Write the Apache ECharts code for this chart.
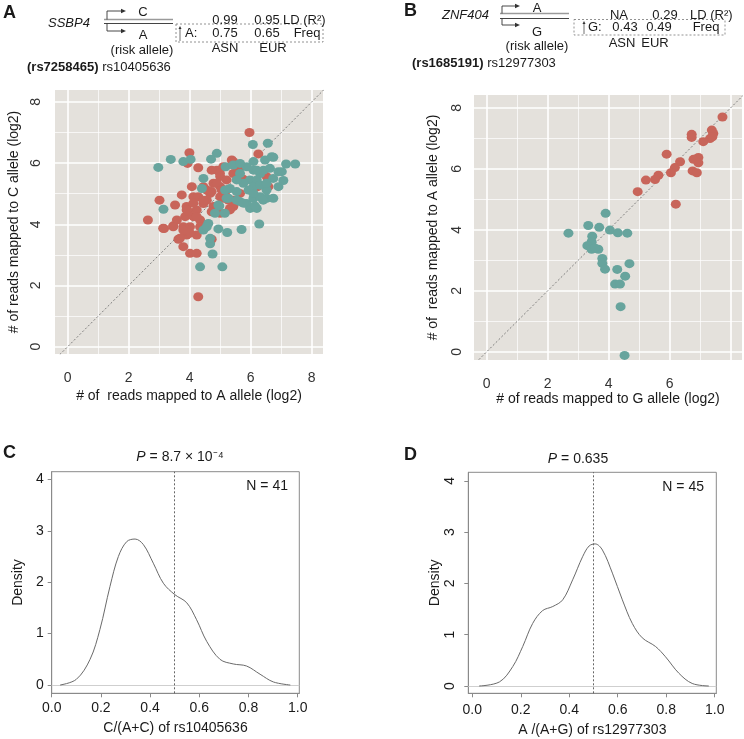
<!DOCTYPE html>
<html>
<head>
<meta charset="utf-8">
<script src="https://cdn.jsdelivr.net/npm/echarts@6/dist/echarts.min.js"></script>
<style>html,body{margin:0;padding:0;background:#fff;}#chart{width:744px;height:739px;}</style>
</head>
<body>
<div id="chart"></div>
<script>
// ---------- data ----------
// Panel A: rs10405636 (x = reads mapped to A allele, y = reads mapped to C allele; log2)
const aRed = [[5.96,7.0],[3.99,6.34],[3.93,5.99],[4.28,5.85],[6.25,6.3],[5.38,6.1],[3.01,4.79],[3.74,4.96],[3.52,4.63],[2.63,4.14],[3.16,3.86],[3.46,3.95],[3.63,3.51],[3.79,3.27],[4.01,3.05],[4.23,3.05],[4.72,3.51],[4.28,1.63],[3.90,3.65],[4.23,3.65],[3.85,4.25],[4.12,4.25],[4.34,4.14],[3.90,4.58],[4.12,4.9],[4.07,5.23],[4.45,4.68],[4.67,5.01],[4.78,5.34],[5.0,5.23],[4.56,5.12],[4.89,5.77],[5.1,5.88],[5.0,5.56],[5.21,5.45],[5.43,5.66],[5.54,5.88],[5.71,5.9],[5.76,5.47],[5.65,5.01],[5.43,4.79],[5.32,4.52],[5.0,4.36],[4.78,4.58],[4.56,4.79],[4.23,4.47],[4.39,3.92],[4.01,3.92],[3.79,3.92],[6.23,5.23],[6.52,5.56],[6.58,5.23],[5.21,5.12],[5.0,4.9],[4.45,5.23],[4.28,4.9],[3.95,4.42],[3.58,4.14],[4.72,5.77],[4.99,5.67],[4.89,5.34],[4.72,5.07],[5.05,5.12],[5.27,4.79],[5.43,4.58],[4.45,4.79],[4.12,4.69],[3.90,4.47],[4.23,4.25],[4.34,3.92],[4.01,3.71],[5.43,6.05],[5.10,4.85],[5.32,4.47],[4.72,4.41],[3.79,3.81],[3.46,3.92],[3.13,3.87],[3.68,3.54]];
const aTeal = [[2.97,5.86],[3.38,6.12],[3.79,6.05],[4.03,6.12],[3.14,4.49],[4.89,6.32],[4.70,6.13],[5.18,5.88],[6.07,6.61],[6.56,6.65],[4.45,5.5],[4.4,5.17],[4.61,4.03],[4.45,3.81],[4.67,3.36],[4.75,3.03],[4.34,2.61],[5.07,2.61],[4.94,3.85],[5.23,3.73],[5.7,3.83],[6.28,4.01],[4.97,4.6],[4.83,4.36],[5.15,4.36],[5.21,4.85],[5.32,5.17],[5.54,5.07],[5.65,4.74],[5.87,4.68],[5.98,4.52],[6.2,4.52],[6.09,4.85],[6.31,4.9],[6.52,4.85],[6.74,4.85],[6.52,5.12],[6.91,5.23],[7.07,5.43],[6.91,5.72],[7.16,5.97],[7.46,5.97],[6.74,6.19],[6.47,6.1],[6.09,6.05],[5.87,5.88],[6.09,5.77],[6.31,5.66],[5.98,5.45],[5.76,5.34],[5.65,5.66],[5.43,5.94],[6.2,5.45],[6.42,5.77],[6.63,5.83],[6.74,5.5],[6.09,5.23],[6.31,5.28],[5.93,5.12],[5.54,5.45],[4.56,3.92],[4.67,3.54],[5.16,5.12],[5.27,4.85],[4.94,4.63],[5.54,4.79],[6.14,4.6],[7.02,5.72],[6.69,6.21],[5.65,5.99],[6.2,5.77],[6.52,5.34],[6.09,5.01],[6.41,4.79],[5.76,4.69]];
// Panel B: rs12977303 (x = reads mapped to G allele, y = reads mapped to A allele; log2)
const bRed = [[7.73,7.70],[7.38,7.27],[7.43,7.16],[7.32,6.99],[7.40,7.05],[6.72,7.13],[6.72,7.03],[7.10,6.89],[6.94,6.37],[6.78,6.31],[6.94,6.2],[6.75,5.93],[6.89,5.87],[5.90,6.48],[6.34,6.23],[6.17,6.04],[6.04,5.87],[5.63,5.79],[5.52,5.65],[5.22,5.63],[4.95,5.25],[6.2,4.84]];
const bTeal = [[3.9,4.54],[3.33,4.14],[3.69,4.08],[2.68,3.89],[4.04,3.99],[4.3,3.9],[4.61,3.89],[3.46,3.79],[3.44,3.61],[3.3,3.48],[3.44,3.36],[3.66,3.36],[3.79,3.06],[3.79,2.9],[3.88,2.71],[4.28,2.7],[4.68,2.89],[4.54,2.48],[4.21,2.22],[4.37,2.22],[4.39,1.48],[4.52,-0.12],[3.55,3.4]];
// Panel C density of C/(A+C)
const cDensX = [0.034,0.10,0.156,0.196,0.237,0.271,0.305,0.339,0.373,0.413,0.454,0.5,0.549,0.589,0.63,0.684,0.738,0.792,0.847,0.901,0.97];
const cDensY = [0,0.11,0.5,1.08,1.92,2.5,2.79,2.84,2.73,2.37,1.98,1.76,1.6,1.27,0.85,0.5,0.41,0.37,0.21,0.06,0];
// Panel D density of A/(A+G)
const dDensX = [0.028,0.112,0.167,0.208,0.249,0.29,0.332,0.373,0.414,0.455,0.482,0.507,0.537,0.578,0.619,0.66,0.701,0.756,0.797,0.852,0.907,0.976];
const dDensY = [0,0.08,0.38,0.77,1.22,1.47,1.55,1.68,2.07,2.52,2.73,2.77,2.65,2.2,1.68,1.22,0.94,0.77,0.57,0.25,0.05,0];
// tick labels
const scatterTicksA = [0,2,4,6,8];
const scatterTicksBx = [0,2,4,6];
const scatterTicksBy = [0,2,4,6,8];
const majorGrid = [0,2,4,6,8];
const minorGrid = [1,3,5,7];
const densXTicks = [0,0.2,0.4,0.6,0.8,1.0];
const densYTicks = [0,1,2,3,4];

// ---------- chart ----------
const FONT = '"Liberation Sans", Arial, Helvetica, sans-serif';
const RED = '#C8655A', TEAL = '#67A49D', BG = '#E4E1DC', TXT = '#1a1a1a', AX = '#8a8a8a';
const chart = echarts.init(document.getElementById('chart'), null, {renderer: 'canvas'});

function zip(xs, ys) { return xs.map((x, i) => [x, ys[i]]); }

function scatterX(gi, min, max, name, nameGap, ticks) {
  return {type: 'value', gridIndex: gi, min, max, name, nameLocation: 'middle', nameGap,
    nameTextStyle: {fontSize: 14, color: TXT, fontFamily: FONT},
    axisLine: {show: false}, axisTick: {show: false}, splitLine: {show: false},
    axisLabel: {customValues: ticks, fontSize: 14, color: '#333', margin: 17, fontFamily: FONT}};
}
function scatterY(gi, min, max, name, nameGap, margin, ticks) {
  return {type: 'value', gridIndex: gi, min, max, name, nameLocation: 'middle', nameGap,
    nameTextStyle: {fontSize: 14, color: TXT, fontFamily: FONT},
    axisLine: {show: false}, axisTick: {show: false}, splitLine: {show: false},
    axisLabel: {customValues: ticks, fontSize: 14, color: '#333', margin, rotate: 90, fontFamily: FONT}};
}
function densX(gi, min, max, name, nameGap, margin) {
  return {type: 'value', gridIndex: gi, min, max, name, nameLocation: 'middle', nameGap,
    nameTextStyle: {fontSize: 14, color: TXT, fontFamily: FONT},
    axisLine: {show: true, onZero: false, lineStyle: {color: AX, width: 1}},
    axisTick: {show: true, customValues: densXTicks, length: 4, lineStyle: {color: AX}},
    splitLine: {show: false},
    axisLabel: {customValues: densXTicks, fontSize: 14, color: TXT, margin, fontFamily: FONT,
      formatter: v => v.toFixed(1)}};
}
function densY(gi, min, max, nameGap, margin, rotate) {
  return {type: 'value', gridIndex: gi, min, max, name: 'Density', nameLocation: 'middle', nameGap,
    nameTextStyle: {fontSize: 14, color: TXT, fontFamily: FONT},
    axisLine: {show: true, onZero: false, lineStyle: {color: AX, width: 1}},
    axisTick: {show: true, customValues: densYTicks, length: 4, lineStyle: {color: AX}},
    splitLine: {show: false},
    axisLabel: {customValues: densYTicks, fontSize: 14, color: TXT, margin, rotate, fontFamily: FONT}};
}
function gridLines(xi) {
  const d = [];
  majorGrid.forEach(v => { d.push({xAxis: v, lineStyle: {width: 1.6}}); d.push({yAxis: v, lineStyle: {width: 1.6}}); });
  minorGrid.forEach(v => { d.push({xAxis: v, lineStyle: {width: 0.7}}); d.push({yAxis: v, lineStyle: {width: 0.7}}); });
  return {type: 'line', xAxisIndex: xi, yAxisIndex: xi, data: [], z: 1, silent: true,
    markLine: {z: 1, silent: true, symbol: ['none', 'none'], label: {show: false}, animation: false,
      lineStyle: {color: '#ffffff', type: 'solid'}, data: d}};
}
function diag(xi) {
  return {type: 'line', xAxisIndex: xi, yAxisIndex: xi, data: [[-1,-1],[9,9]], showSymbol: false,
    symbol: 'none', clip: true, z: 2, silent: true,
    lineStyle: {color: '#666', width: 0.8, type: [2, 2]}};
}
function pts(xi, data, color, z) {
  return {type: 'scatter', xAxisIndex: xi, yAxisIndex: xi, data, symbol: 'circle', symbolSize: [10, 9],
    itemStyle: {color, opacity: 1}, z, silent: true};
}
function densLine(xi, xs, ys) {
  return {type: 'line', xAxisIndex: xi, yAxisIndex: xi, data: zip(xs, ys), smooth: 0.35,
    showSymbol: false, symbol: 'none', z: 3, silent: true, lineStyle: {color: '#6a6a6a', width: 1},
    markLine: {z: 2, silent: true, symbol: ['none', 'none'], label: {show: false}, animation: false,
      data: [
        {yAxis: 0, lineStyle: {color: '#cfcfcf', width: 1, type: 'solid'}},
        {xAxis: 0.5, lineStyle: {color: '#555', width: 0.9, type: [2, 2]}}
      ]}};
}

// ---------- annotation graphics ----------
function T(x, y, text, size, extra) {
  return {type: 'text', x, y, silent: true,
    style: Object.assign({text, font: size + 'px ' + FONT, fill: TXT, textAlign: 'left', textVerticalAlign: 'middle'}, extra || {})};
}
function C(x, y, text, size, extra) { return T(x, y, text, size, Object.assign({textAlign: 'center'}, extra || {})); }
function L(pts, color, w, dash) {
  return {type: 'polyline', silent: true, shape: {points: pts},
    style: {stroke: color, lineWidth: w, fill: null, lineDash: dash || null}};
}
function Tri(pts, color) {
  return {type: 'polygon', silent: true, shape: {points: pts}, style: {fill: color, stroke: null}};
}
function Box(x, y, w, h) {
  return {type: 'rect', silent: true, shape: {x, y, width: w, height: h},
    style: {fill: null, stroke: '#777', lineWidth: 0.8, lineDash: [2, 2]}};
}
const bold = s => 'bold ' + s + 'px ' + FONT;
const ital = s => 'italic ' + s + 'px ' + FONT;

const graphics = [
  // ---- panel A header ----
  T(3, 13, 'A', 18, {font: bold(18)}),
  T(48, 23, 'SSBP4', 13, {font: ital(13)}),
  L([[104, 19.5], [173, 19.5]], '#9a9a9a', 1.6),
  L([[104, 23.5], [173, 23.5]], '#444', 1),
  L([[107, 19.5], [107, 11], [122, 11]], '#333', 0.9),
  Tri([[126, 11], [121, 8.8], [121, 13.2]], '#333'),
  C(143, 12, 'C', 13),
  L([[107, 23.5], [107, 31], [122, 31]], '#333', 0.9),
  Tri([[126, 31], [121, 28.8], [121, 33.2]], '#333'),
  C(143, 35, 'A', 13),
  C(142, 50, '(risk allele)', 13),
  Box(176, 24, 147, 18),
  L([[180, 41], [180, 28]], '#333', 0.7),
  Tri([[180, 26], [178.5, 29], [181.5, 29]], '#333'),
  T(185, 33, 'A:', 13),
  C(225, 33, '0.75', 13), C(267, 33, '0.65', 13), C(307, 33, 'Freq', 13),
  C(225, 20, '0.99', 13), C(267, 20, '0.95', 13), T(283, 20, 'LD (R²)', 13),
  C(225, 48, 'ASN', 13), C(273, 48, 'EUR', 13),
  T(27, 67, '{b|(rs7258465)} rs10405636', 13, {rich: {b: {font: bold(13), fill: TXT}}}),
  // ---- panel B header ----
  T(404, 11, 'B', 18, {font: bold(18)}),
  T(442, 15, 'ZNF404', 13, {font: ital(13)}),
  L([[500, 13.5], [569, 13.5]], '#9a9a9a', 1.6),
  L([[500, 18.5], [569, 18.5]], '#444', 1),
  L([[502, 13.5], [502, 6], [516, 6]], '#333', 0.9),
  Tri([[520, 6], [515, 3.8], [515, 8.2]], '#333'),
  C(537, 8, 'A', 13),
  L([[502, 18.5], [502, 25], [516, 25]], '#333', 0.9),
  Tri([[520, 25], [515, 22.8], [515, 27.2]], '#333'),
  C(537, 32, 'G', 13),
  C(537, 46, '(risk allele)', 13),
  C(619, 15, 'NA', 13), C(665, 15, '0.29', 13), T(690, 15, 'LD (R²)', 13),
  Box(574, 19.5, 151, 15.5),
  L([[584, 34], [584, 23]], '#333', 0.7),
  Tri([[584, 21], [582.5, 24], [585.5, 24]], '#333'),
  T(588, 27, 'G:', 13),
  C(625, 27, '0.43', 13), C(659, 27, '0.49', 13), C(706, 27, 'Freq', 13),
  C(622, 43, 'ASN', 13), C(655, 43, 'EUR', 13),
  T(412, 63, '{b|(rs1685191)} rs12977303', 13, {rich: {b: {font: bold(13), fill: TXT}}}),
  // ---- panel C / D headers ----
  T(3, 453, 'C', 18, {font: bold(18)}),
  C(180, 457, '{i|P} = 8.7 × 10⁻⁴', 14, {rich: {i: {font: ital(14), fill: TXT}}}),
  T(288, 486, 'N = 41', 14, {textAlign: 'right'}),
  T(404, 455, 'D', 18, {font: bold(18)}),
  C(578, 459, '{i|P} = 0.635', 14, {rich: {i: {font: ital(14), fill: TXT}}}),
  T(704, 487, 'N = 45', 14, {textAlign: 'right'})
];

const option = {
  animation: false,
  backgroundColor: '#ffffff',
  textStyle: {fontFamily: FONT},
  grid: [
    {left: 55, top: 90, width: 268, height: 264, show: true, backgroundColor: BG, borderWidth: 0, containLabel: false, z: 0},
    {left: 474, top: 95, width: 268, height: 265, show: true, backgroundColor: BG, borderWidth: 0, containLabel: false, z: 0},
    {left: 51.7, top: 471.7, width: 247.6, height: 221.6, show: true, backgroundColor: 'transparent', borderColor: AX, borderWidth: 1, containLabel: false},
    {left: 468.3, top: 472.3, width: 248, height: 221, show: true, backgroundColor: 'transparent', borderColor: AX, borderWidth: 1, containLabel: false}
  ],
  xAxis: [
    scatterX(0, -0.416, 8.37, '# of  reads mapped to A allele (log2)', 35, scatterTicksA),
    scatterX(1, -0.416, 8.37, '# of reads mapped to G allele (log2)', 30, scatterTicksBx),
    densX(2, 0, 1.0065, 'C/(A+C) of rs10405636', 28, 8),
    densX(3, -0.0165, 1.0066, 'A /(A+G) of rs12977303', 30, 10)
  ],
  yAxis: [
    scatterY(0, -0.24, 8.39, '# of reads mapped to C allele (log2)', 34, 12, scatterTicksA),
    scatterY(1, -0.27, 8.42, '# of  reads mapped to A allele (log2)', 34, 10, scatterTicksBy),
    densY(2, -0.161, 4.15, 27, 8, 0),
    densY(3, -0.142, 4.166, 26, 11, 90)
  ],
  series: [
    gridLines(0), diag(0), pts(0, aRed, RED, 3), pts(0, aTeal, TEAL, 4),
    gridLines(1), diag(1), pts(1, bRed, RED, 3), pts(1, bTeal, TEAL, 4),
    densLine(2, cDensX, cDensY),
    densLine(3, dDensX, dDensY)
  ],
  graphic: {elements: graphics}
};
chart.setOption(option);
</script>
</body>
</html>
